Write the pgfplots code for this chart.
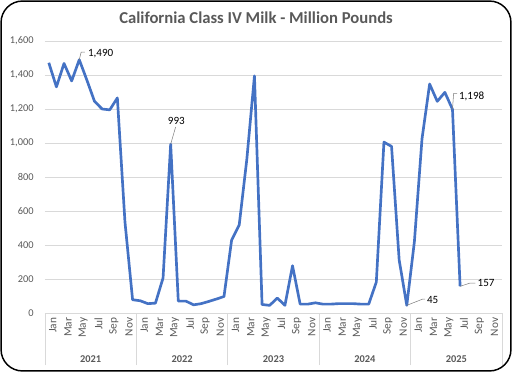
\documentclass[border=0pt]{standalone}
\usepackage{pgfplots}
\pgfplotsset{compat=1.18}
\usepackage{pgfplotstable}
\usepackage{fontspec}
\setmainfont{Carlito}
\definecolor{exblue}{HTML}{4472C4}
\definecolor{txtgray}{HTML}{595959}
\definecolor{gridgray}{HTML}{D9D9D9}
\pgfplotstableread{
idx val
0 1472
1 1330
2 1468
3 1365
4 1490
5 1370
6 1245
7 1200
8 1195
9 1265
10 535
11 78
12 72
13 55
14 58
15 206
16 993
17 70
18 70
19 48
20 55
21 68
22 82
23 97
24 428
25 518
26 905
27 1395
28 50
29 45
30 88
31 45
32 278
33 52
34 52
35 60
36 52
37 52
38 55
39 55
40 55
41 52
42 52
43 182
44 1005
45 980
46 312
47 45
48 420
49 1025
50 1347
51 1245
52 1298
53 1198
54 157
}\milk
\begin{document}
\begin{tikzpicture}
\useasboundingbox (0,0) rectangle (384pt,279pt);
\draw[line width=1.1pt, rounded corners=16pt] (0.8pt,0.8pt) rectangle (383.2pt,278.2pt);
\node[font=\fontsize{12.5}{14}\selectfont\bfseries, text=txtgray] at (192pt,265.5pt) {California Class IV Milk - Million Pounds};
\begin{axis}[
  at={(33.75pt,44.25pt)}, anchor=south west,
  scale only axis, width=342.75pt, height=204pt,
  xmin=-0.5, xmax=59.5, ymin=0, ymax=1600,
  axis x line*=bottom, axis y line*=left,
  x axis line style={draw=gridgray, line width=0.6pt, -},
  y axis line style={draw=none},
  ytick={0,200,...,1600},
  ymajorgrids, grid style={gridgray, line width=0.5pt},
  ytick style={draw=none},
  yticklabel style={font=\fontsize{7.8}{9}\selectfont, text=txtgray, xshift=-5pt},
  /pgf/number format/assume math mode=true,
  /pgf/number format/.cd, 1000 sep={,}, /pgfplots/.cd,
  xtick={0,2,...,58},
  xticklabels={Jan,Mar,May,Jul,Sep,Nov,Jan,Mar,May,Jul,Sep,Nov,Jan,Mar,May,Jul,Sep,Nov,Jan,Mar,May,Jul,Sep,Nov,Jan,Mar,May,Jul,Sep,Nov},
  xticklabel style={font=\fontsize{8.5}{9}\selectfont, text=txtgray, rotate=90, anchor=east, yshift=-3pt},
  major tick length=0pt,
  extra x ticks={-0.5,11.5,23.5,35.5,47.5,59.5},
  extra x tick labels={},
  extra x tick style={major tick length=39pt, tick align=outside, tick style={draw=gridgray, line width=0.6pt}, grid=none},
  clip=false,
]
\addplot[exblue, line width=2pt, line join=round] table[x=idx, y=val] {\milk};
% year labels
\foreach \yr/\c in {2021/5.5,2022/17.5,2023/29.5,2024/41.5,2025/53.5}{
  \edef\tmp{\noexpand\node[font=\noexpand\fontsize{7.8}{9}\noexpand\selectfont\noexpand\bfseries, text=txtgray] at (axis cs:\c,0) [yshift=-34.5pt] {\yr};}
  \tmp
}
% data labels
\draw[gray, line width=0.4pt] (axis cs:4,1490) -- (axis cs:4.25,1535) -- (axis cs:4.75,1535);
\node[font=\fontsize{8.3}{9}\selectfont, anchor=west, inner sep=1pt] at (axis cs:4.95,1525) {1,490};
\draw[gray, line width=0.4pt] (axis cs:16,993) -- (axis cs:16.65,1094);
\node[font=\fontsize{8.3}{9}\selectfont, anchor=south, inner sep=1pt] at (axis cs:16.75,1100) {993};
\draw[gray, line width=0.4pt] (axis cs:47,45) -- (axis cs:49.1,82) -- (axis cs:49.4,82);
\node[font=\fontsize{8.3}{9}\selectfont, anchor=west, inner sep=1pt] at (axis cs:49.45,76) {45};
\draw[gray, line width=0.4pt] (axis cs:53,1198) -- (axis cs:53.15,1292) -- (axis cs:53.6,1292);
\node[font=\fontsize{8.3}{9}\selectfont, anchor=west, inner sep=1pt] at (axis cs:53.65,1276) {1,198};
\draw[gray, line width=0.4pt] (axis cs:54,157) -- (axis cs:55.3,176) -- (axis cs:56,176);
\node[font=\fontsize{8.3}{9}\selectfont, anchor=west, inner sep=1pt] at (axis cs:56.1,176) {157};
\end{axis}
\end{tikzpicture}
\end{document}
